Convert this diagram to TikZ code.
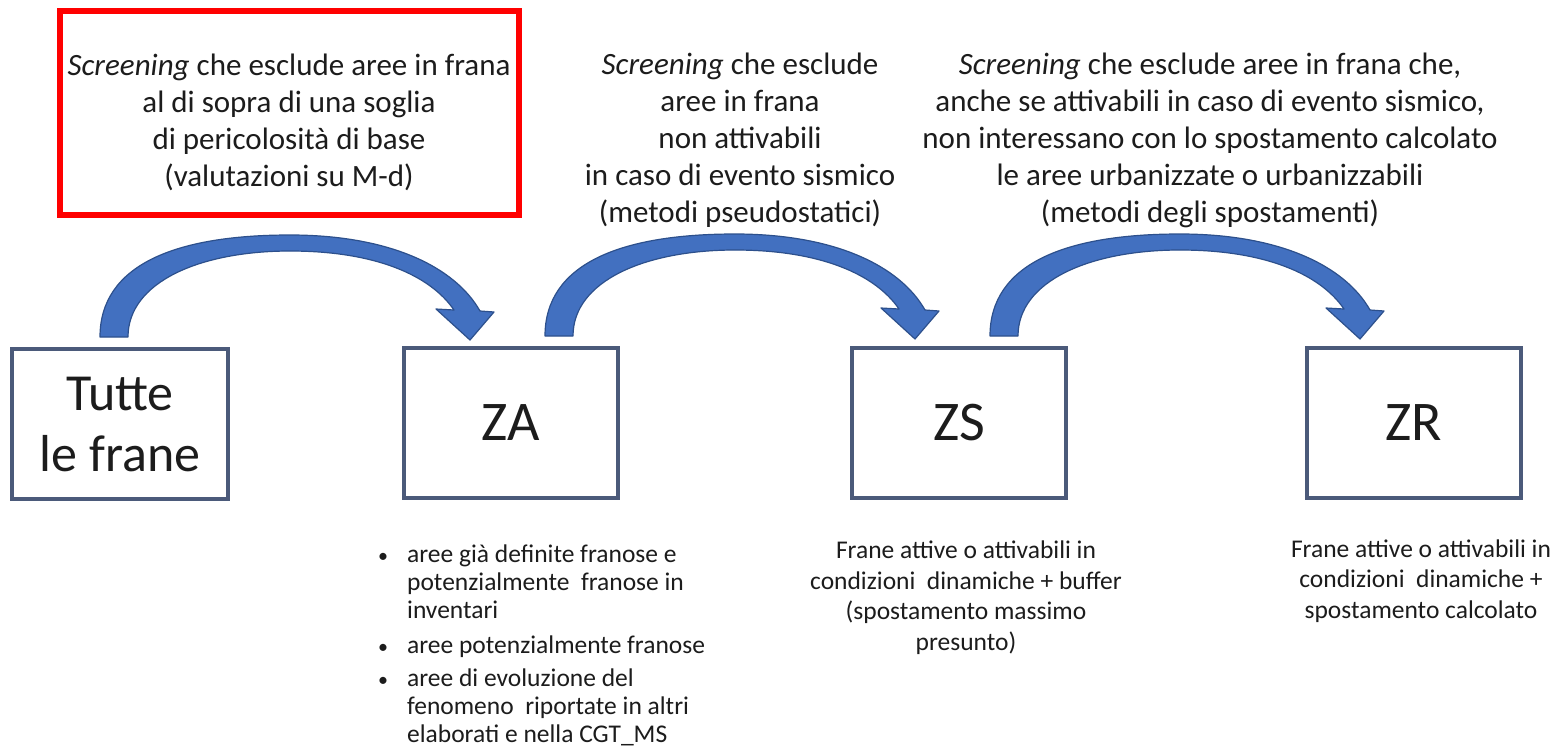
\documentclass[tikz,border=0pt]{standalone}
\usepackage{fontspec}
\setmainfont{Carlito}
\usetikzlibrary{calc}
\definecolor{boxc}{RGB}{75,90,122}
\definecolor{txt}{RGB}{28,28,28}
\definecolor{arrowc}{RGB}{66,112,192}
\definecolor{arrowe}{RGB}{45,80,140}
\definecolor{hlred}{RGB}{255,0,0}
\begin{document}
\begin{tikzpicture}[x=1pt,y=-1pt,
  box/.style={draw=boxc, line width=4pt, minimum width=214pt, minimum height=150pt, inner sep=0pt, fill=white, text=txt, align=center},
  toptext/.style={align=center, font=\fontsize{31}{37}\selectfont, text=txt, inner sep=0pt},
  bottext/.style={align=center, font=\fontsize{25.5}{30.5}\selectfont, text=txt, inner sep=0pt},
  arrowbody/.style={fill=arrowc, draw=arrowe, line width=1.2pt, line join=round},
  curvarrow/.pic={
    \path[arrowbody] (0,0) .. controls (0,-72) and (75,-102) .. (190,-102)
      .. controls (290,-102) and (355,-70) .. (380,-26)
      -- (394,-25) -- (370,3) -- (336,-28) -- (354,-27)
      .. controls (330,-62) and (275,-86) .. (190,-86)
      .. controls (100,-86) and (28,-55) .. (28,0) -- cycle;
  }]
\useasboundingbox (0,0) rectangle (1560,750);
\fill[white] (0,0) rectangle (1560,750);

% red highlight
\node[draw=hlred, line width=6pt, minimum width=459pt, minimum height=204pt, inner sep=0pt] (hl) at (289.5,113) {};

% top texts (anchor=base is the baseline of the last line)
\node[toptext, anchor=base] (t1) at (289,186) {\textit{Screening} che esclude aree in frana\\al di sopra di una soglia\\di pericolosità di base\\(valutazioni su M-d)};
\node[toptext, anchor=base] (t2) at (740,222) {\textit{Screening} che esclude\\aree in frana\\non attivabili\\in caso di evento sismico\\(metodi pseudostatici)};
\node[toptext, anchor=base] (t3) at (1210,222) {\textit{Screening} che esclude aree in frana che,\\anche se attivabili in caso di evento sismico,\\non interessano con lo spostamento calcolato\\le aree urbanizzate o urbanizzabili\\(metodi degli spostamenti)};

% boxes
\node[box, minimum width=216pt, font=\fontsize{52}{61}\selectfont] (tutte) at (120,424) {Tutte\\le frane};
\node[box, font=\fontsize{56}{66}\selectfont] (za) at (511,423) {ZA};
\node[box, font=\fontsize{56}{66}\selectfont] (zs) at (959,423) {ZS};
\node[box, font=\fontsize{56}{66}\selectfont] (zr) at (1414,423) {ZR};

% curved arrows
\pic at ($(tutte.north west)+(90,-10)$) {curvarrow};
\pic at ($(za.north west)+(143,-10)$) {curvarrow};
\pic at ($(zs.north west)+(140,-10)$) {curvarrow};

% bottom texts
\node[anchor=base west, inner sep=0pt, text=txt, font=\fontsize{25.5}{28}\selectfont] (bza) at (378,562) {%
  \renewcommand{\arraystretch}{1}%
  \begin{tabular}[t]{@{}l@{\hspace{19pt}}l@{}}
  {\fontsize{20}{20}\selectfont\textbullet} & aree già definite franose e\\
   & potenzialmente\ \ franose in\\
   & inventari\\[7pt]
  {\fontsize{20}{20}\selectfont\textbullet} & aree potenzialmente franose\\[5pt]
  {\fontsize{20}{20}\selectfont\textbullet} & aree di evoluzione del\\
   & fenomeno\ \ riportate in altri\\
   & elaborati e nella CGT\_MS
  \end{tabular}};
\node[bottext, anchor=base] (bzs) at (966,650) {Frane attive o attivabili in\\condizioni\ \ dinamiche + buffer\\(spostamento massimo\\presunto)};
\node[bottext, anchor=base] (bzr) at (1421,618) {Frane attive o attivabili in\\condizioni\ \ dinamiche +\\spostamento calcolato};
\end{tikzpicture}
\end{document}
